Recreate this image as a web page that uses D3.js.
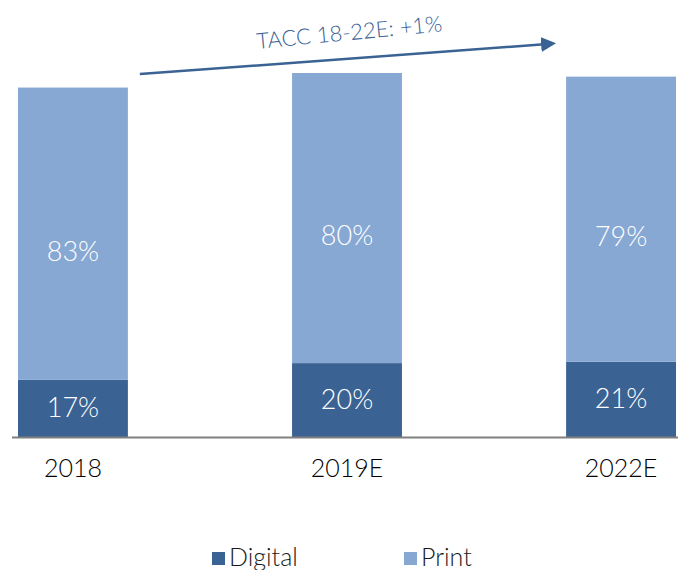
<!DOCTYPE html>
<html>
<head>
<meta charset="utf-8">
<script src="https://cdn.jsdelivr.net/npm/d3@7"></script>
<style>
  body { margin: 0; background: #fff; }
  text { font-family: "Lato", "Open Sans", sans-serif; }
</style>
</head>
<body>
<div id="chart"></div>
<script>
// data (index, 2019E = 100)
var years = ["2018", "2019E", "2022E"];
var digital = [15.7, 20.3, 20.7];
var print = [80.3, 79.7, 78.3];
var digitalLabels = ["17%", "20%", "21%"];
var printLabels = ["83%", "80%", "79%"];
var seriesNames = ["Digital", "Print"];
var annotation = "TACC 18-22E: +1%";

var darkBlue = "#3a6293";
var lightBlue = "#87a8d3";

var width = 678, height = 570;

var svg = d3.select("#chart")
  .append("svg")
  .attr("width", width)
  .attr("height", height);

var x = d3.scaleBand()
  .domain(years)
  .range([18, 676])
  .paddingInner(0.599)
  .paddingOuter(0);

var y = d3.scaleLinear()
  .domain([0, 100])
  .range([437, 73]);

var rows = years.map(function(yr, i) {
  return { year: yr, Digital: digital[i], Print: print[i] };
});

var stacked = d3.stack().keys(seriesNames)(rows);
var colors = { Digital: darkBlue, Print: lightBlue };
var labels = { Digital: digitalLabels, Print: printLabels };
var labelShift = { Digital: 9, Print: 27 }; // text sits a bit below segment centre

// bars
var layer = svg.selectAll(".layer")
  .data(stacked)
  .enter().append("g")
  .attr("class", "layer")
  .attr("fill", function(d) { return colors[d.key]; });

layer.selectAll("rect")
  .data(function(d) { return d; })
  .enter().append("rect")
  .attr("x", function(d) { return x(d.data.year); })
  .attr("y", function(d) { return y(d[1]); })
  .attr("width", x.bandwidth())
  .attr("height", function(d) { return y(d[0]) - y(d[1]); });

// percent labels
stacked.forEach(function(s) {
  svg.selectAll(".lbl-" + s.key)
    .data(s)
    .enter().append("text")
    .attr("class", "lbl-" + s.key)
    .attr("x", function(d) { return x(d.data.year) + x.bandwidth() / 2; })
    .attr("y", function(d, i) { return (y(d[0]) + y(d[1])) / 2 + labelShift[s.key]; })
    .attr("text-anchor", "middle")
    .attr("fill", "#fff")
    .attr("font-size", 27)
    .attr("font-weight", 300)
    .text(function(d, i) { return labels[s.key][i]; });
});

// baseline
svg.append("line")
  .attr("x1", 12).attr("x2", width)
  .attr("y1", y(0) + 0.5).attr("y2", y(0) + 0.5)
  .attr("stroke", "#808080")
  .attr("stroke-width", 2);

// category axis
var xAxis = svg.append("g")
  .attr("transform", "translate(0," + y(0) + ")")
  .call(d3.axisBottom(x).tickSize(0).tickPadding(22));
xAxis.select(".domain").remove();
xAxis.selectAll("text")
  .attr("font-size", 25)
  .attr("font-weight", 300)
  .attr("fill", "#000")
  .style("font-family", "Lato, 'Open Sans', sans-serif");

// growth arrow
svg.append("defs").append("marker")
  .attr("id", "head")
  .attr("viewBox", "0 0 10 10")
  .attr("refX", 2).attr("refY", 5)
  .attr("markerWidth", 6).attr("markerHeight", 6)
  .attr("orient", "auto")
  .append("path")
  .attr("d", "M0,0 L10,5 L0,10 Z")
  .attr("fill", darkBlue);

var ax1 = x("2018") + x.bandwidth() + 12, ay1 = y(99.7);
var ax2 = x("2022E") - 22, ay2 = y(107.9);
svg.append("line")
  .attr("x1", ax1).attr("y1", ay1)
  .attr("x2", ax2).attr("y2", ay2)
  .attr("stroke", darkBlue)
  .attr("stroke-width", 2.5)
  .attr("marker-end", "url(#head)");

svg.append("text")
  .attr("transform", "translate(350,40) rotate(-5.5)")
  .attr("text-anchor", "middle")
  .attr("fill", darkBlue)
  .attr("font-size", 22)
  .attr("font-weight", 300)
  .text(annotation);

// legend
var legend = svg.selectAll(".legend")
  .data(seriesNames)
  .enter().append("g")
  .attr("class", "legend")
  .attr("transform", function(d, i) { return "translate(" + (212 + i * 192) + ",552)"; });

legend.append("rect")
  .attr("width", 13).attr("height", 13)
  .attr("fill", function(d) { return colors[d]; });

legend.append("text")
  .attr("x", 17).attr("y", 14)
  .attr("font-size", 25)
  .attr("font-weight", 300)
  .attr("fill", "#1a1a1a")
  .text(function(d) { return d; });
</script>
</body>
</html>
